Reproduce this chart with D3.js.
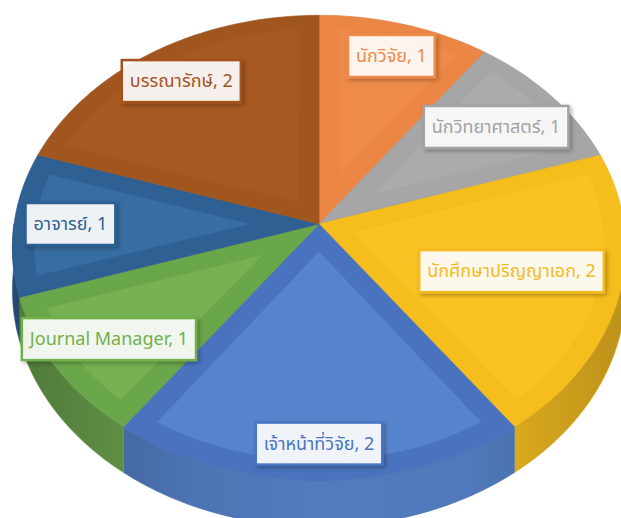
<!DOCTYPE html>
<html>
<head>
<meta charset="utf-8">
<script src="https://cdn.jsdelivr.net/npm/d3@7"></script>
<style>
  html, body { margin: 0; padding: 0; background: #fff; }
  svg text { font-family: "Noto Sans Thai", "Leelawadee UI", Tahoma, "Noto Sans", sans-serif; }
</style>
</head>
<body>
<div id="chart"></div>
<script>
// data
var categories = ["นักวิจัย", "นักวิทยาศาสตร์", "นักศึกษาปริญญาเอก", "เจ้าหน้าที่วิจัย", "Journal Manager", "อาจารย์", "บรรณารักษ์"];
var values = [1, 1, 2, 2, 1, 1, 2];

// styles
var topColors  = ["#EE8A4A", "#ABABAB", "#FAC223", "#5684CC", "#76B254", "#386DA2", "#A65A22"];
var bandColors = ["#EC8645", "#A6A6A6", "#F5BE1C", "#4973BE", "#6AA64A", "#2F6094", "#A2561F"];
var textColors = ["#EF8A48", "#A3A3A3", "#F4BA22", "#4A75C2", "#72B04B", "#2E5F93", "#A5531E"];
var labelR = [0.83, 0.75, 0.65, 0.87, 0.81, 0.815, 0.82];

var W = 621, H = 518;
var cx = 319, cy = 224;
var A = 305, B = 230, persp = 0.102, depth = 42;
var bevel = 0.07;

var svg = d3.select("#chart").append("svg")
    .attr("width", W)
    .attr("height", H);

var defs = svg.append("defs");
var f = defs.append("filter").attr("id", "shadow")
    .attr("x", "-20%").attr("y", "-30%").attr("width", "150%").attr("height", "170%");
f.append("feDropShadow").attr("dx", 2).attr("dy", 2).attr("stdDeviation", 2)
    .attr("flood-color", "#000").attr("flood-opacity", 0.3);

// projection of plane coords (r, angle, z) onto screen
function proj(r, t, z) {
    var w = 1 + persp * r * Math.cos(t);
    return [cx + A * r * Math.sin(t) / w,
            cy + (-B * r * Math.cos(t) + depth * z) / w];
}

function arcPts(r, t0, t1, z) {
    var n = Math.max(2, Math.ceil(Math.abs(t1 - t0) / 0.02));
    return d3.range(n + 1).map(i => proj(r, t0 + (t1 - t0) * i / n, z));
}

var line = d3.line();
var pie = d3.pie().sort(null).value(d => d);
var arcs = pie(values);

// side walls (front half only)
var sides = svg.append("g");
arcs.forEach((d, i) => {
    var t0 = Math.max(d.startAngle, Math.PI / 2);
    var t1 = Math.min(d.endAngle, Math.PI * 1.5);
    if (t1 <= t0) return;
    var gid = "side" + i;
    var base = d3.color(topColors[i]);
    var g = defs.append("linearGradient").attr("id", gid)
        .attr("gradientUnits", "userSpaceOnUse")
        .attr("x1", cx - A).attr("x2", cx + A).attr("y1", 0).attr("y2", 0);
    g.append("stop").attr("offset", 0).attr("stop-color", base.darker(1.1));
    g.append("stop").attr("offset", 0.3).attr("stop-color", base.darker(0.35));
    g.append("stop").attr("offset", 0.5).attr("stop-color", base.darker(0.2));
    g.append("stop").attr("offset", 0.75).attr("stop-color", base.darker(0.25));
    g.append("stop").attr("offset", 1).attr("stop-color", base.darker(0.8));
    var pts = arcPts(1, t0, t1, 0).concat(arcPts(1, t1, t0, 1));
    sides.append("path")
        .attr("d", line(pts) + "Z")
        .attr("fill", "url(#" + gid + ")")
        .attr("stroke", base.darker(0.4))
        .attr("stroke-width", 0.6);
});

// top faces with bevel
var tops = svg.append("g");
arcs.forEach((d, i) => {
    var t0 = d.startAngle, t1 = d.endAngle;
    var outer = [proj(0, 0, 0)].concat(arcPts(1, t0, t1, 0));
    tops.append("path")
        .attr("d", line(outer) + "Z")
        .attr("fill", bandColors[i])
        .attr("stroke", d3.color(bandColors[i]).darker(0.2))
        .attr("stroke-width", 0.6);

    var half = (t1 - t0) / 2, mid = t0 + half;
    var r1 = 1 - bevel;
    var da = Math.asin(bevel / r1);
    var inner = [proj(bevel / Math.sin(half), mid, 0)].concat(arcPts(r1, t0 + da, t1 - da, 0));
    tops.append("path")
        .attr("d", line(inner) + "Z")
        .attr("fill", topColors[i]);
});

// data labels
var labels = svg.append("g");
arcs.forEach((d, i) => {
    var mid = (d.startAngle + d.endAngle) / 2;
    var p = proj(labelR[i], mid, 0);
    var g = labels.append("g").attr("transform", "translate(" + p[0] + "," + p[1] + ")");
    var rect = g.append("rect").attr("filter", "url(#shadow)");
    var txt = g.append("text")
        .attr("text-anchor", "middle")
        .attr("dy", "0.35em")
        .attr("font-size", 18)
        .attr("fill", textColors[i])
        .text(categories[i] + ", " + values[i]);
    var bw = txt.node().getComputedTextLength() + 16;
    var bh = 42;
    rect.attr("x", -bw / 2).attr("y", -bh / 2)
        .attr("width", bw).attr("height", bh)
        .attr("fill", "rgba(255,255,255,0.9)")
        .attr("stroke", textColors[i])
        .attr("stroke-width", 2.5);
});
</script>
</body>
</html>
